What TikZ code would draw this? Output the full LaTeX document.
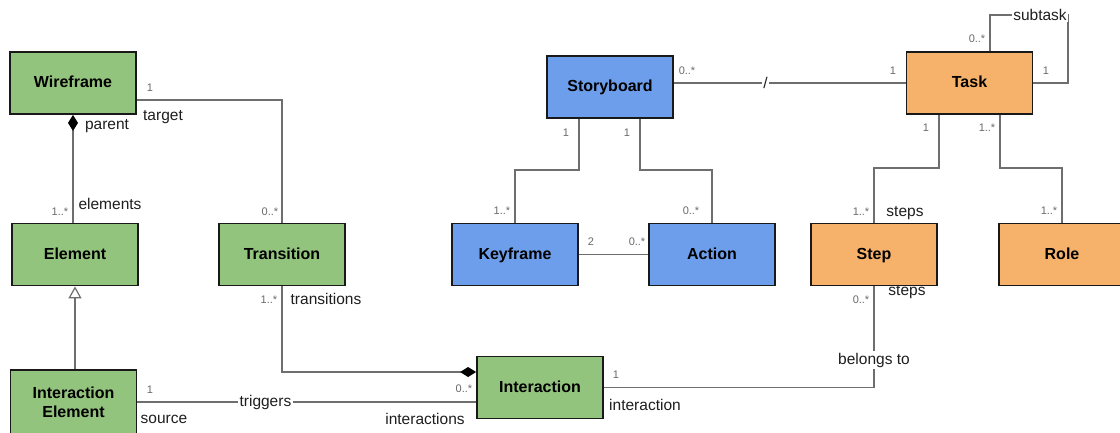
\documentclass[tikz,border=0pt]{standalone}
\usepackage{fontspec}
\setmainfont{Liberation Sans}
\usetikzlibrary{arrows.meta}
\definecolor{cgreen}{HTML}{93C47D}
\definecolor{cblue}{HTML}{6D9EEB}
\definecolor{corange}{HTML}{F6B26B}
\definecolor{cline}{HTML}{6E6E6E}
\definecolor{cmult}{HTML}{6A6A6A}
\definecolor{crole}{HTML}{1E1E1E}
\begin{document}
\begin{tikzpicture}[x=1pt,y=-1pt,
  clsbase/.style={draw=black!90, line width=1.8pt, minimum width=126pt, minimum height=62pt,
    inner sep=0pt, align=center, font=\fontsize{16}{19}\selectfont\bfseries},
  cls/.style={clsbase, text height=11.6pt, text depth=2.2pt},
  green/.style={cls, fill=cgreen},
  blue/.style={cls, fill=cblue},
  orange/.style={cls, fill=corange},
  conn/.style={draw=cline, line width=1.2pt},
  mult/.style={text=cmult, font=\fontsize{11}{13}\selectfont, inner sep=0pt},
  rolelbl/.style={text=crole, font=\fontsize{15.5}{18}\selectfont, inner sep=0pt},
  onwire/.style={rolelbl, fill=white, inner sep=1.5pt},
  comp/.style={{Diamond[length=16pt,width=10pt,color=black,fill=black]}-},
  gen/.style={{Triangle[open,length=12pt,width=13pt,fill=white]}-}
]
\useasboundingbox (0,0) rectangle (1120,432);
\fill[white] (0,0) rectangle (1120,432);

% classes
\node[green]  (wf)  at (73,83)    {Wireframe};
\node[green]  (el)  at (75,254.5) {Element};
\node[green]  (tr)  at (282,254.5) {Transition};
\node[clsbase, fill=cgreen, minimum height=64pt] (ie) at (73.5,402) {Interaction\\Element};
\node[green]  (ia)  at (540,387.5) {Interaction};
\node[blue]   (sb)  at (610,87)   {Storyboard};
\node[blue]   (kf)  at (515,254.5) {Keyframe};
\node[blue]   (ac)  at (712,254.5) {Action};
\node[orange] (tk)  at (969.5,83) {Task};
\node[orange] (st)  at (874,254.5) {Step};
\node[orange] (ro)  at (1062,254.5) {Role};

% attachment points on class borders
\coordinate (wfR)  at ([yshift=-17pt]wf.east);
\coordinate (sbL)  at ([xshift=-31pt]sb.south);
\coordinate (sbR)  at ([xshift=30pt]sb.south);
\coordinate (tkT)  at ([xshift=20.5pt]tk.north);
\coordinate (tkL)  at ([xshift=-30.5pt]tk.south);
\coordinate (tkR)  at ([xshift=30.5pt]tk.south);
\coordinate (iaL)  at ([yshift=15.5pt]ia.west);

% Wireframe -- Element (composition)
\draw[conn, comp] (wf.south) -- (wf.south |- el.north);
% Element <|-- Interaction Element
\draw[conn, gen] (el.south) -- (el.south |- ie.north);
% Wireframe -- Transition
\draw[conn] (wfR) -| (tr.north);
% Transition -- Interaction (composition)
\draw[conn, comp] (iaL) -| (tr.south);
% Interaction Element -- Interaction
\draw[conn] (ie.east |- 0,402) -- (ia.west |- 0,402)
  node[onwire, pos=0.378] {triggers};
% Interaction -- Step
\draw[conn] (ia.east) -| (st.south);
\node[onwire] (bel) at (874,360) {belongs to};
% Storyboard -- Keyframe / Action
\draw[conn] (sbL) -- (sbL |- 0,170) -| (kf.north);
\draw[conn] (sbR) -- (sbR |- 0,170) -| (ac.north);
% Keyframe -- Action
\draw[conn] (kf.east) -- (ac.west);
% Storyboard -- Task
\draw[conn] (sb.east |- tk.west) -- (tk.west)
  node[onwire, pos=0.395, inner sep=1pt] {/};
% Task self association
\coordinate (loopA) at (tkT |- 0,15);
\coordinate (loopB) at (1068,15);
\draw[conn] (tkT) -- (loopA) -- (loopB) |- (tk.east);
\node[onwire, inner sep=1pt] (sub) at (1040,15) {subtask};
% Task -- Step / Role
\draw[conn] (tkL) -- (tkL |- 0,168) -| (st.north);
\draw[conn] (tkR) -- (tkR |- 0,168) -| (ro.north);

% multiplicities
\node[mult] at (150,88)  {1};
\node[mult] at (60,212)  {1..*};
\node[mult] at (270,212) {0..*};
\node[mult] at (269,300) {1..*};
\node[mult] at (150,390) {1};
\node[mult] at (464,389) {0..*};
\node[mult] at (616,375) {1};
\node[mult] at (591,242) {2};
\node[mult] at (637,242) {0..*};
\node[mult] at (566,133) {1};
\node[mult] at (627,133) {1};
\node[mult] at (502,211) {1..*};
\node[mult] at (691,211) {0..*};
\node[mult] at (687,71)  {0..*};
\node[mult] at (893,71)  {1};
\node[mult] at (977,39)  {0..*};
\node[mult] at (1046,71) {1};
\node[mult] at (926,128) {1};
\node[mult] at (987,128) {1..*};
\node[mult] at (861,212) {1..*};
\node[mult] at (1049,211) {1..*};
\node[mult] at (861,300) {0..*};

% role names
\node[rolelbl] at (107,126) {parent};
\node[rolelbl] at (163,117) {target};
\node[rolelbl] at (110,204) {elements};
\node[rolelbl] at (326,299) {transitions};
\node[rolelbl] at (164,419) {source};
\node[rolelbl] at (425,419) {interactions};
\node[rolelbl] at (645,405) {interaction};
\node[rolelbl] at (907,292) {steps};
\node[rolelbl] at (905,213) {steps};
\end{tikzpicture}
\end{document}
